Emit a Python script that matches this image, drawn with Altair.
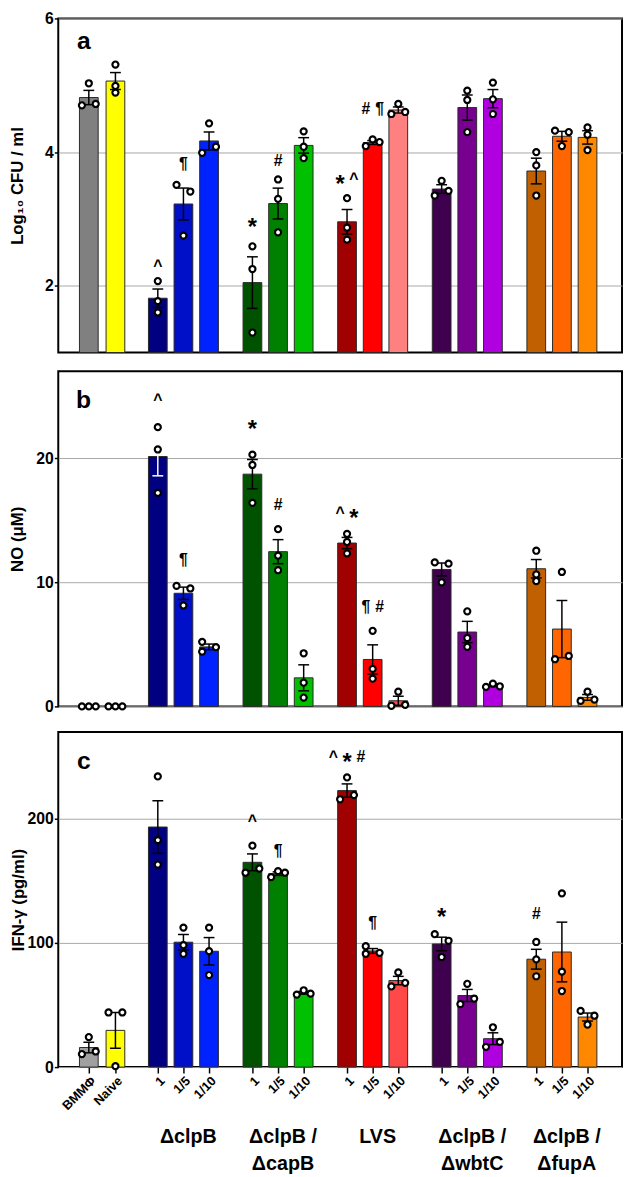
import altair as alt
import pandas as pd

FONT = "Liberation Sans"

# ---------------- data ----------------
tick_labels = ["BMMΦ", "Naive"] + ["1", "1/5", "1/10"] * 5
group_labels = ["ΔclpB", "ΔclpB /\nΔcapB", "LVS", "ΔclpB /\nΔwbtC", "ΔclpB /\nΔfupA"]

# panel a : Log10 CFU / ml (three replicates per bar)
cfu_values = [
    [5.03, 4.70, 4.72], [5.31, 4.99, 4.89],
    [2.07, 1.77, 1.60], [3.51, 3.41, 2.75], [4.43, 3.99, 4.08],
    [2.59, 2.25, 1.30], [3.59, 3.30, 2.80], [4.31, 4.08, 3.91],
    [3.31, 2.87, 2.69], [4.09, 4.19, 4.15], [4.72, 4.57, 4.60],
    [3.57, 3.35, 3.42], [4.92, 4.78, 4.30], [5.04, 4.79, 4.57],
    [4.00, 3.80, 3.35], [4.32, 4.30, 4.09], [4.37, 4.26, 4.03],
]
cfu_offsets = [
    [0, -1, 1], [0, 0, 0],
    [0, 0, 0], [-1, 1, 0], [0, -1, 1],
    [0, 0, 0], [0, 0, 0], [0, 0, 0],
    [0, 0, 0], [-1, 0, 1], [0, -1, 1],
    [0, -1, 1], [0, 0, 0], [0, 0, 0],
    [0, 0, 0], [-1, 1, 0], [0, 0, 0],
]

# panel b : NO (uM)
no_values = [
    [0, 0, 0], [0, 0, 0],
    [22.5, 20.7, 17.2], [9.71, 9.5, 8.13], [5.2, 4.41, 4.77],
    [20.28, 19.45, 16.4], [14.28, 12.15, 10.97], [4.28, 1.91, 0.71],
    [13.9, 13.25, 12.33], [6.09, 3.02, 2.23], [1.18, 0.05, 0.13],
    [11.6, 11.5, 10.0], [7.66, 5.51, 4.8], [1.57, 1.83, 1.62],
    [12.54, 10.63, 10.1], [10.83, 3.8, 4.06], [1.18, 0.44, 0.55],
]
no_offsets = [
    [-1, 0, 1], [-1, 0, 1],
    [0, 0, 0], [-1, 1, 0], [-1, -1, 1],
    [0, 0, 0], [0, 0, 0], [0, 0, 0],
    [0, 0, 0], [0, 0, 0], [0, -1, 1],
    [-1, 1, 0], [0, 0, 0], [-1, 0, 1],
    [0, 0, 0], [0, -1, 1], [0, -1, 1],
]

# panel c : IFN-gamma (pg/ml)
ifn_values = [
    [24.2, 10.5, 12.6], [44.0, 44.0, 0.8],
    [234.2, 182.9, 163.2], [112.4, 98.2, 91.3], [112.4, 93.4, 74.2],
    [178.4, 156.6, 160.0], [153.1, 157.9, 156.6], [58.4, 61.9, 59.2],
    [233.4, 215.8, 219.2], [97.4, 91.3, 92.1], [76.3, 65.0, 67.9],
    [107.1, 101.8, 88.7], [67.1, 50.8, 55.2], [32.1, 16.3, 20.3],
    [100.8, 86.8, 73.2], [140.0, 76.9, 61.3], [45.3, 41.4, 34.3],
]
ifn_offsets = [
    [0, -1, 1], [-1, 1, 0],
    [0, 0, 0], [0, 0, 0], [0, 0, 0],
    [0, -1, 1], [-1, 0, 1], [-1, 0, 1],
    [0, -1, 1], [-1, -1, 1], [0, -1, 1],
    [-1, 1, 0], [0, -1, 1], [0, -1, 1],
    [0, 0, 0], [0, 0, 0], [-1, 1, 0],
]

colors_a = ["#808080", "#ffff00",
            "#000080", "#0010c8", "#0022ff",
            "#005200", "#008000", "#00c000",
            "#a00000", "#ff0000", "#ff8080",
            "#400050", "#780090", "#b000e0",
            "#c06000", "#ff6600", "#ff8800"]
colors_bc = ["#a0a0a0", "#ffff00",
             "#000080", "#0010c8", "#0022ff",
             "#005200", "#008000", "#00c000",
             "#a00000", "#ff0000", "#ff4848",
             "#400050", "#780090", "#b000e0",
             "#c06000", "#ff6600", "#ff8800"]

# significance marks: (bar index, symbols, height)
annot_a = [(2, "^", 2.3), (3, "¶", 3.82), (5, "*", 2.95), (6, "#", 3.87),
           (8, "* ^", 3.6), (9, "# ¶", 4.64)]
annot_b = [(2, "^", 24.7), (3, "¶", 11.8), (5, "*", 22.75), (6, "#", 16.2),
           (8, "^ *", 15.6), (9, "¶ #", 8.0)]
annot_c = [(5, "^", 197.9), (6, "¶", 174.2), (8, "^ * #", 250.0), (9, "¶", 115.8),
           (11, "*", 125.0), (14, "#", 122.9)]

# ---------------- layout ----------------
W = 572
BAR_W = 19
CAP_W = 11
JIT = 7
SYM_GAP = 14


def bar_pos(i):
    if i < 2:
        return 31 + 27 * i
    g, d = divmod(i - 2, 3)
    return 101 + 96 * g + 26 * d


def panel(values, offsets, colors, ydom, yticks, ytitle, tpad, letter, lxy,
          annots, H, white_err=None, bottom=False):
    rows = []
    for i, (vals, offs) in enumerate(zip(values, offsets)):
        for v, o in zip(vals, offs):
            rows.append(dict(idx=i, pos=bar_pos(i), val=v, off=o, color=colors[i]))
    df = pd.DataFrame(rows)

    xs = alt.Scale(domain=[0, W], nice=False, zero=False)
    ys = alt.Scale(domain=ydom, nice=False, zero=False)
    if bottom:
        xaxis = alt.Axis(values=[bar_pos(i) for i in range(17)], labels=False,
                         ticks=True, tickSize=6, tickWidth=1.5, tickColor="black",
                         domain=False, grid=False, title=None)
    else:
        xaxis = None
    yaxis = alt.Axis(values=yticks, title=ytitle, grid=True, gridColor="#a8a8a8",
                     gridWidth=1, domain=False, tickSize=4, tickWidth=1.5,
                     tickColor="black", labelFont=FONT, labelFontWeight="bold",
                     labelFontSize=16, labelColor="black", labelPadding=1,
                     titleFont=FONT, titleFontWeight="bold", titleFontSize=17,
                     titleColor="black", titlePadding=tpad)

    def X(f):
        return alt.X(f"{f}:Q", scale=xs, axis=xaxis)

    def Y(f):
        return alt.Y(f"{f}:Q", scale=ys, axis=yaxis)

    base = alt.Chart(df)
    agg = base.transform_aggregate(
        mean="mean(val)", sem="stderr(val)", groupby=["idx", "pos", "color"]
    ).transform_calculate(
        x1=f"datum.pos - {BAR_W / 2}", x2=f"datum.pos + {BAR_W / 2}",
        c1=f"datum.pos - {CAP_W / 2}", c2=f"datum.pos + {CAP_W / 2}",
        lo="datum.mean - datum.sem", hi="datum.mean + datum.sem",
        base=f"{ydom[0]}",
    )
    bars = agg.mark_bar(stroke="#2a2a2a", strokeWidth=1).encode(
        x=X("x1"), x2="x2:Q", y=Y("mean"), y2="base:Q",
        color=alt.Color("color:N", scale=None))

    if white_err is not None:
        ec = alt.condition(f"datum.idx == {white_err}", alt.value("white"), alt.value("black"))
    else:
        ec = alt.value("black")
    err = agg.mark_rule(strokeWidth=1.5).encode(x=X("pos"), y=Y("lo"), y2="hi:Q", color=ec)
    caps = agg.transform_fold(["lo", "hi"], as_=["k", "cy"]).mark_rule(strokeWidth=1.5).encode(
        x=X("c1"), x2="c2:Q", y=Y("cy"), color=ec)

    pts = base.transform_calculate(px=f"datum.pos + datum.off * {JIT}").mark_point(
        shape="circle", filled=True, fill="white", stroke="black", strokeWidth=2.2,
        size=38, opacity=1).encode(x=X("px"), y=Y("val"))

    arows = []
    for i, t, y in annots:
        syms = t.split(" ")
        n = len(syms)
        for k, s in enumerate(syms):
            arows.append(dict(pos=bar_pos(i), k=k - (n - 1) / 2, s=s, y=y))
    adf = pd.DataFrame(arows)
    abase = alt.Chart(adf).transform_calculate(ax=f"datum.pos + datum.k * {SYM_GAP}")
    ann_star = abase.transform_filter("datum.s == '*'").mark_text(
        font=FONT, fontWeight="bold", fontSize=24, color="black", dy=6).encode(
        x=X("ax"), y=Y("y"), text="s:N")
    ann_other = abase.transform_filter("datum.s != '*'").mark_text(
        font=FONT, fontWeight="bold", fontSize=16, color="black").encode(
        x=X("ax"), y=Y("y"), text="s:N")

    let = alt.Chart(pd.DataFrame({"t": [letter]})).mark_text(
        align="left", baseline="alphabetic", font=FONT, fontWeight="bold",
        fontSize=25, color="black").encode(x=alt.value(lxy[0]), y=alt.value(lxy[1]), text="t:N")

    layers = [bars, err, caps, pts, ann_star, ann_other, let]
    if bottom:
        tdf = pd.DataFrame({"pos": [bar_pos(i) for i in range(17)], "lab": tick_labels})
        tl = alt.Chart(tdf).mark_text(angle=315, align="right", baseline="middle",
                                      font=FONT, fontWeight="bold", fontSize=13,
                                      color="black", dx=7).encode(
            x=X("pos"), y=alt.value(H + 17), text="lab:N")
        gdf = pd.DataFrame({"pos": [bar_pos(3 + 3 * g) for g in range(5)], "lab": group_labels})
        gl = alt.Chart(gdf).mark_text(align="center", baseline="top", font=FONT,
                                      fontWeight="bold", fontSize=20, lineHeight=27,
                                      lineBreak="\n", color="black", dx=5).encode(
            x=X("pos"), y=alt.value(H + 61), text="lab:N")
        layers += [tl, gl]
    return alt.layer(*layers).properties(width=W, height=H)


pa = panel(cfu_values, cfu_offsets, colors_a, [1, 6], [2, 4, 6], "Log₁₀ CFU / ml", 18,
           "a", (19, 31), annot_a, 339)
pb = panel(no_values, no_offsets, colors_bc, [0, 27], [0, 10, 20], "NO (μM)", 9,
           "b", (18, 37), annot_b, 340, white_err=2)
pc = panel(ifn_values, ifn_offsets, colors_bc, [0, 270], [0, 100, 200], "IFN-γ (pg/ml)", 0,
           "c", (19, 38), annot_c, 340, bottom=True)

chart = alt.vconcat(pa, pb, pc, spacing=16).properties(
    padding={"left": 0, "top": -7, "right": 0, "bottom": 0}
).configure(background="white").configure_view(stroke="black", strokeWidth=2)

chart.save("out.html", embed_options={"renderer": "svg", "actions": False})
